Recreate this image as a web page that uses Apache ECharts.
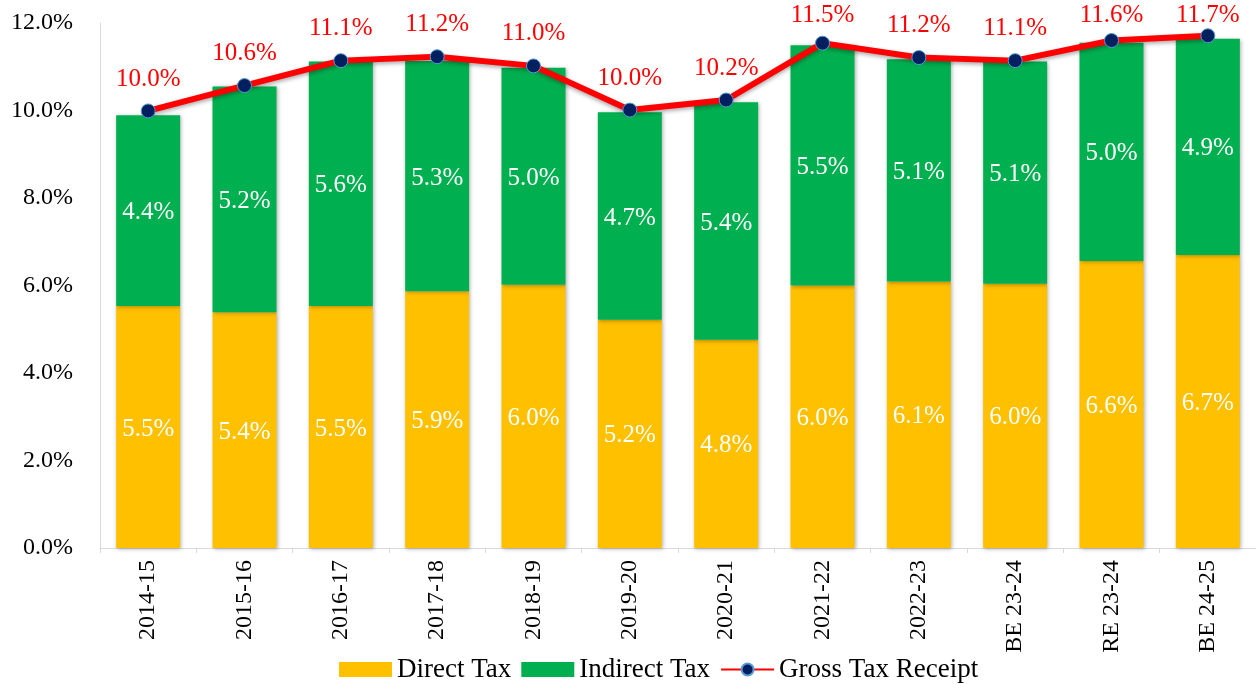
<!DOCTYPE html>
<html>
<head>
<meta charset="utf-8">
<script src="https://cdn.jsdelivr.net/npm/echarts@6/dist/echarts.min.js"></script>
<style>html,body{margin:0;padding:0;background:#fff;}#c{width:1256px;height:684px;}</style>
</head>
<body>
<div id="c"></div>
<script>
const categories = ['2014-15','2015-16','2016-17','2017-18','2018-19','2019-20','2020-21','2021-22','2022-23','BE 23-24','RE 23-24','BE 24-25'];
const directTax = [5.53, 5.39, 5.53, 5.87, 6.02, 5.22, 4.76, 6.00, 6.09, 6.04, 6.56, 6.70];
const indirectTax = [4.36, 5.16, 5.59, 5.26, 4.96, 4.74, 5.43, 5.49, 5.08, 5.08, 4.99, 4.94];
const grossTax = [9.99, 10.57, 11.14, 11.23, 11.02, 10.01, 10.24, 11.54, 11.21, 11.14, 11.60, 11.71];
const yTicks = [0, 2, 4, 6, 8, 10, 12];

const FONT = '"Liberation Serif", "Times New Roman", serif';
const chart = echarts.init(document.getElementById('c'));
const pct = v => (typeof v === 'number' ? v : v.value).toFixed(1) + '%';
chart.setOption({
  animation: false,
  textStyle: { fontFamily: FONT },
  grid: { left: 100, right: 0, top: 23, bottom: 136 },
  legend: {
    left: 334, top: 651, itemGap: 10, itemWidth: 53, itemHeight: 15,
    textStyle: { fontFamily: FONT, fontSize: 27, color: '#000' },
    data: [
      { name: 'Direct Tax', icon: 'rect' },
      { name: 'Indirect Tax', icon: 'rect' },
      { name: 'Gross Tax Receipt' }
    ]
  },
  xAxis: {
    type: 'category', data: categories,
    axisLine: { lineStyle: { color: '#D9D9D9', width: 1 } },
    axisTick: { show: true, length: 5, lineStyle: { color: '#D9D9D9' } },
    axisLabel: { rotate: 90, fontFamily: FONT, fontSize: 24, color: '#000', margin: 12 }
  },
  yAxis: {
    type: 'value', min: 0, max: 12, interval: yTicks[1] - yTicks[0],
    axisLine: { show: true, lineStyle: { color: '#D9D9D9' } },
    axisTick: { show: false },
    splitLine: { show: false },
    axisLabel: { fontFamily: FONT, fontSize: 24, color: '#000', margin: 27, formatter: v => v.toFixed(1) + '%' }
  },
  series: [
    {
      name: 'Direct Tax', type: 'bar', stack: 't', data: directTax, barWidth: 64,
      itemStyle: { color: '#FFC000', shadowBlur: 4, shadowColor: 'rgba(0,0,0,0.3)', shadowOffsetX: 1, shadowOffsetY: 1 },
      label: { show: true, position: 'inside', offset: [0, 2], color: '#fff', fontFamily: FONT, fontSize: 25, formatter: p => pct(p.value) }
    },
    {
      name: 'Indirect Tax', type: 'bar', stack: 't', data: indirectTax, barWidth: 64,
      itemStyle: { color: '#00B050', shadowBlur: 4, shadowColor: 'rgba(0,0,0,0.3)', shadowOffsetX: 1, shadowOffsetY: 1 },
      label: { show: true, position: 'inside', offset: [0, 2], color: '#fff', fontFamily: FONT, fontSize: 25, formatter: p => pct(p.value) }
    },
    {
      name: 'Gross Tax Receipt', type: 'line', data: grossTax,
      symbol: 'circle', symbolSize: 14,
      lineStyle: { color: '#FF0000', width: 6, shadowBlur: 4, shadowColor: 'rgba(0,0,0,0.35)', shadowOffsetY: 2 },
      itemStyle: { color: '#002060', borderColor: '#5B9BD5', borderWidth: 1 },
      label: { show: true, position: 'top', distance: 12, color: '#FF0000', fontFamily: FONT, fontSize: 25, formatter: p => pct(p.value) },
      labelLayout: p => ({ dy: Math.max(0, 3 - p.labelRect.y) }),
      z: 5
    }
  ]
});
</script>
</body>
</html>
